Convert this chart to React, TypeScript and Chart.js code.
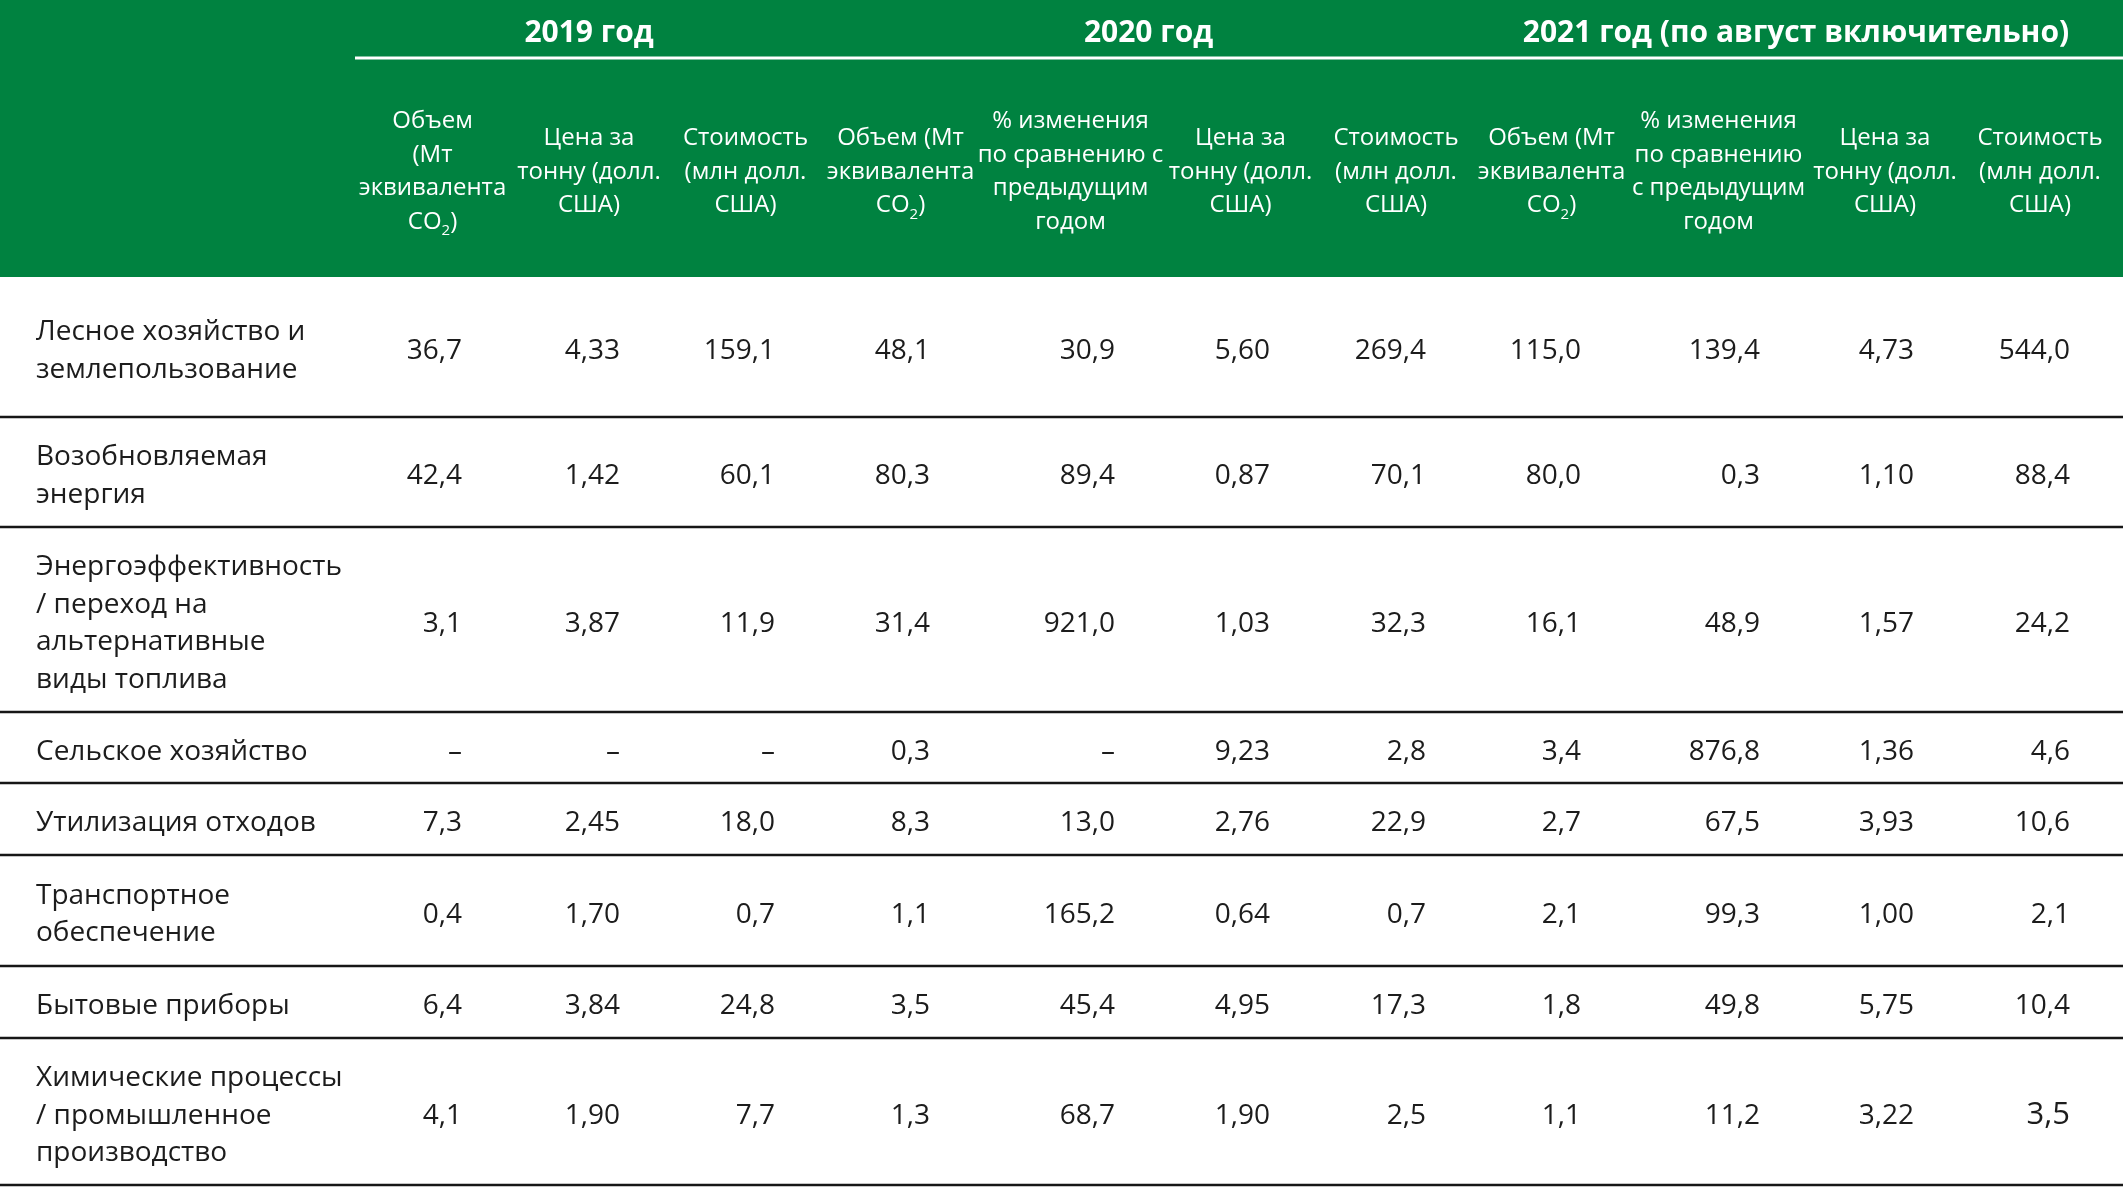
import React, { useEffect, useRef } from "react";
import { Chart, registerables } from "chart.js";

Chart.register(...registerables);

// ---------- DATA ----------
const yearGroups = ["2019 год", "2020 год", "2021 год (по август включительно)"];
const yearSpans = [3, 4, 4];

const columnHeaders: string[][] = [
  ["Объем", "(Мт", "эквивалента", "CO₂)"],
  ["Цена за", "тонну (долл.", "США)"],
  ["Стоимость", "(млн долл.", "США)"],
  ["Объем (Мт", "эквивалента", "CO₂)"],
  ["% изменения", "по сравнению с", "предыдущим", "годом"],
  ["Цена за", "тонну (долл.", "США)"],
  ["Стоимость", "(млн долл.", "США)"],
  ["Объем (Мт", "эквивалента", "CO₂)"],
  ["% изменения", "по сравнению", "с предыдущим", "годом"],
  ["Цена за", "тонну (долл.", "США)"],
  ["Стоимость", "(млн долл.", "США)"],
];

const categories: string[][] = [
  ["Лесное хозяйство и", "землепользование"],
  ["Возобновляемая", "энергия"],
  ["Энергоэффективность", "/ переход на", "альтернативные", "виды топлива"],
  ["Сельское хозяйство"],
  ["Утилизация отходов"],
  ["Транспортное", "обеспечение"],
  ["Бытовые приборы"],
  ["Химические процессы", "/ промышленное", "производство"],
];

const volume2019 = [36.7, 42.4, 3.1, null, 7.3, 0.4, 6.4, 4.1];
const price2019 = [4.33, 1.42, 3.87, null, 2.45, 1.7, 3.84, 1.9];
const cost2019 = [159.1, 60.1, 11.9, null, 18.0, 0.7, 24.8, 7.7];
const volume2020 = [48.1, 80.3, 31.4, 0.3, 8.3, 1.1, 3.5, 1.3];
const change2020 = [30.9, 89.4, 921.0, null, 13.0, 165.2, 45.4, 68.7];
const price2020 = [5.6, 0.87, 1.03, 9.23, 2.76, 0.64, 4.95, 1.9];
const cost2020 = [269.4, 70.1, 32.3, 2.8, 22.9, 0.7, 17.3, 2.5];
const volume2021 = [115.0, 80.0, 16.1, 3.4, 2.7, 2.1, 1.8, 1.1];
const change2021 = [139.4, 0.3, 48.9, 876.8, 67.5, 99.3, 49.8, 11.2];
const price2021 = [4.73, 1.1, 1.57, 1.36, 3.93, 1.0, 5.75, 3.22];
const cost2021 = [544.0, 88.4, 24.2, 4.6, 10.6, 2.1, 10.4, 3.5];

const seriesColumns = [
  volume2019, price2019, cost2019,
  volume2020, change2020, price2020, cost2020,
  volume2021, change2021, price2021, cost2021,
];
const decimals = [1, 2, 1, 1, 1, 2, 1, 1, 1, 2, 1];

// ---------- LAYOUT / STYLE ----------
const W = 2123;
const H = 1192;
const HEADER_BOTTOM = 277;
const YEAR_RULE_Y = 58;
const YEAR_BASELINE = 42;
const HEADER_BASELINE_MID = 178.5;
const HEADER_LINE = 33.5;
const BODY_LINE = 37.5;
const BASELINE_SHIFT = 12;
const LABEL_X = 36;
const RIGHT_PAD = 48;
const colEdges = [355, 510, 668, 823, 978, 1163, 1318, 1474, 1629, 1808, 1962, 2118];
const rowEdges = [277, 417, 527, 712, 783, 855, 966, 1038, 1185];
const GREEN = "rgb(0,130,64)";
const TEXT = "#1c1c1c";
const FAMILY = "'Open Sans', 'Noto Sans', sans-serif";
const BODY_FONT = `28px ${FAMILY}`;
const LARGE_CELL = { row: 7, col: 10, font: `31px ${FAMILY}` };
const HEADER_SIZE = 24;
const YEAR_FONT = `bold 30px ${FAMILY}`;

function fmt(v: number | null, d: number) {
  if (v === null || v === undefined) return "–";
  return v.toFixed(d).replace(".", ",");
}

function drawRich(ctx: CanvasRenderingContext2D, text: string, cx: number, baseline: number, size: number) {
  const parts = text.split("₂");
  const normal = `${size}px ${FAMILY}`;
  const small = `${Math.round(size * 0.62)}px ${FAMILY}`;
  let total = 0;
  const pieces: { t: string; f: string; dy: number }[] = [];
  parts.forEach((p, i) => {
    if (p) pieces.push({ t: p, f: normal, dy: 0 });
    if (i < parts.length - 1) pieces.push({ t: "2", f: small, dy: size * 0.28 });
  });
  pieces.forEach((p) => {
    ctx.font = p.f;
    total += ctx.measureText(p.t).width;
  });
  let x = cx - total / 2;
  ctx.textAlign = "left";
  pieces.forEach((p) => {
    ctx.font = p.f;
    ctx.fillText(p.t, x, baseline + p.dy);
    x += ctx.measureText(p.t).width;
  });
}

const tablePlugin = {
  id: "tablePlugin",
  beforeDatasetsDraw(chart: any) {
    const { ctx } = chart;
    const xs = chart.scales.x;
    const ys = chart.scales.y;
    ctx.save();
    // header band
    ctx.fillStyle = GREEN;
    const x0 = xs.getPixelForValue(0);
    const x1 = xs.getPixelForValue(W);
    const y0 = ys.getPixelForValue(0);
    const yb = ys.getPixelForValue(HEADER_BOTTOM);
    ctx.fillRect(x0, y0, x1 - x0, yb - y0);
    // year rule
    ctx.strokeStyle = "#ffffff";
    ctx.lineWidth = 3;
    ctx.beginPath();
    ctx.moveTo(xs.getPixelForValue(colEdges[0]), ys.getPixelForValue(YEAR_RULE_Y));
    ctx.lineTo(x1, ys.getPixelForValue(YEAR_RULE_Y));
    ctx.stroke();
    // row rules
    ctx.strokeStyle = "#161616";
    ctx.lineWidth = 2.6;
    for (let i = 1; i < rowEdges.length; i++) {
      const yy = ys.getPixelForValue(rowEdges[i]);
      ctx.beginPath();
      ctx.moveTo(x0, yy);
      ctx.lineTo(x1, yy);
      ctx.stroke();
    }
    // header text
    ctx.fillStyle = "#ffffff";
    ctx.textBaseline = "alphabetic";
    let c = 0;
    yearGroups.forEach((g, gi) => {
      const left = colEdges[c];
      const right = colEdges[c + yearSpans[gi]];
      c += yearSpans[gi];
      ctx.font = YEAR_FONT;
      ctx.textAlign = "center";
      ctx.fillText(g, xs.getPixelForValue((left + right) / 2), ys.getPixelForValue(YEAR_BASELINE));
    });
    columnHeaders.forEach((lines, ci) => {
      const cx = xs.getPixelForValue((colEdges[ci] + colEdges[ci + 1]) / 2);
      lines.forEach((ln, li) => {
        const by = HEADER_BASELINE_MID + (li - (lines.length - 1) / 2) * HEADER_LINE;
        drawRich(ctx, ln, cx, ys.getPixelForValue(by), HEADER_SIZE);
      });
    });
    ctx.restore();
  },
  afterDatasetsDraw(chart: any) {
    const { ctx } = chart;
    ctx.save();
    ctx.fillStyle = TEXT;
    ctx.textBaseline = "alphabetic";
    // values
    const valMeta = chart.getDatasetMeta(0);
    const valData = chart.data.datasets[0].data;
    valMeta.data.forEach((pt: any, i: number) => {
      const d = valData[i];
      ctx.font = d.row === LARGE_CELL.row && d.col === LARGE_CELL.col ? LARGE_CELL.font : BODY_FONT;
      ctx.textAlign = "right";
      ctx.fillText(d.text, pt.x, pt.y + BASELINE_SHIFT);
    });
    // category labels
    const labMeta = chart.getDatasetMeta(1);
    const labData = chart.data.datasets[1].data;
    ctx.font = BODY_FONT;
    ctx.textAlign = "left";
    labMeta.data.forEach((pt: any, i: number) => {
      const lines: string[] = labData[i].lines;
      lines.forEach((ln, li) => {
        const off = (li - (lines.length - 1) / 2) * BODY_LINE;
        ctx.fillText(ln, pt.x, pt.y + BASELINE_SHIFT + off);
      });
    });
    ctx.restore();
  },
};

export default function App() {
  const ref = useRef<HTMLCanvasElement | null>(null);
  useEffect(() => {
    document.body.style.margin = "0";
    const canvas = ref.current;
    if (!canvas) return;
    const rowCenter = (r: number) => (rowEdges[r] + rowEdges[r + 1]) / 2;
    const valuePoints: any[] = [];
    seriesColumns.forEach((series, c) => {
      series.forEach((v, r) => {
        valuePoints.push({
          x: colEdges[c + 1] - RIGHT_PAD,
          y: rowCenter(r),
          text: fmt(v as number | null, decimals[c]),
          row: r,
          col: c,
        });
      });
    });
    const labelPoints = categories.map((lines, r) => ({ x: LABEL_X, y: rowCenter(r), lines }));
    const chart = new Chart(canvas, {
      type: "scatter",
      data: {
        datasets: [
          { data: valuePoints, pointRadius: 0, showLine: false } as any,
          { data: labelPoints, pointRadius: 0, showLine: false } as any,
        ],
      },
      options: {
        animation: false,
        responsive: false,
        maintainAspectRatio: false,
        devicePixelRatio: 1,
        events: [],
        layout: { padding: 0 },
        plugins: { legend: { display: false }, tooltip: { enabled: false } },
        scales: {
          x: { type: "linear", min: 0, max: W, display: false },
          y: { type: "linear", min: 0, max: H, reverse: true, display: false },
        },
      },
      plugins: [tablePlugin],
    });
    return () => chart.destroy();
  }, []);
  return <canvas ref={ref} width={W} height={H} style={{ display: "block" }} />;
}
